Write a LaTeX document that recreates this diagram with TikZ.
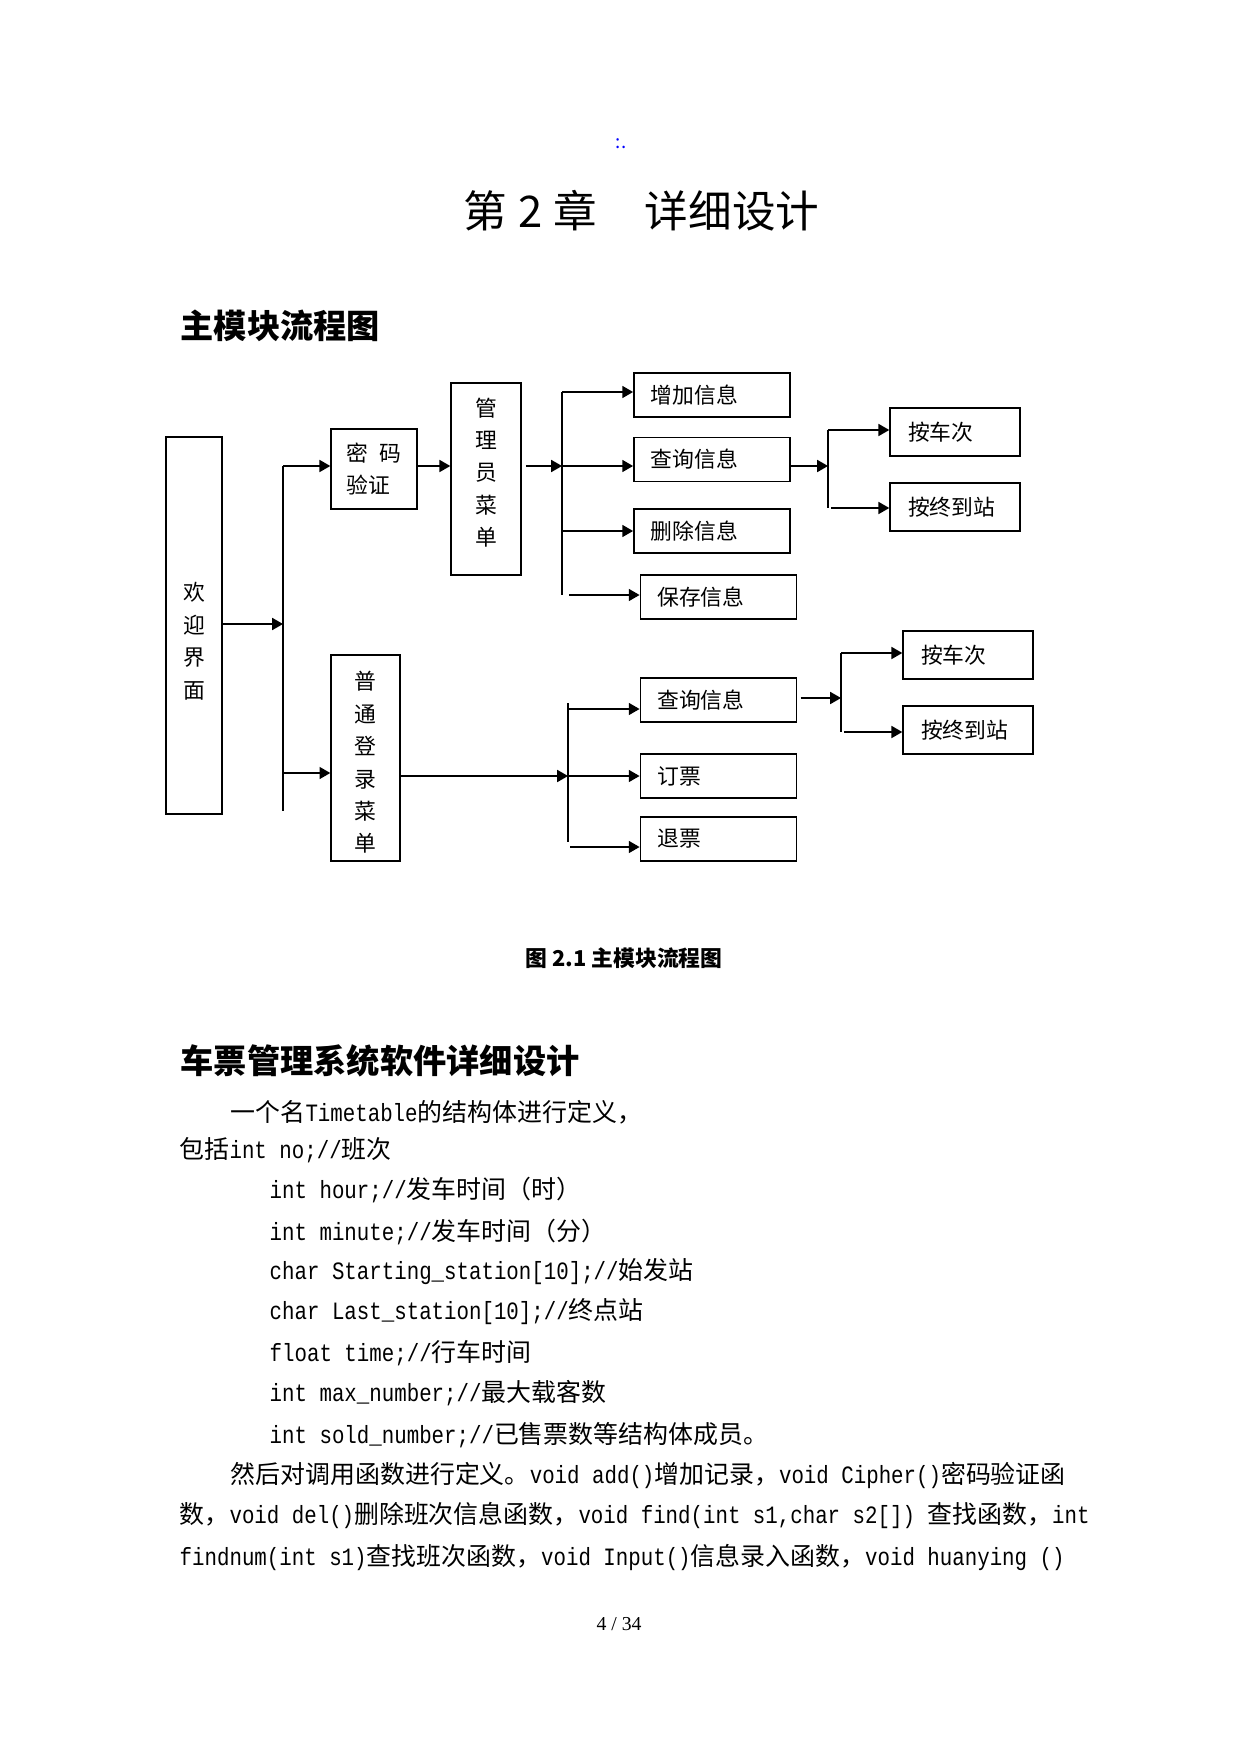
\documentclass[tikz,border=0pt]{standalone}
\usepackage{fontspec}
\setmainfont{Noto Sans CJK SC}
\setmonofont{Liberation Mono}[FakeStretch=0.8333]
\newfontfamily\pagefont{Liberation Serif}
\usepackage{tikz}
\usetikzlibrary{positioning}
\usetikzlibrary{arrows.meta}

\begin{document}
\begin{tikzpicture}[x=0.16922mm,y=-0.16922mm,>={Triangle[length=5.2pt,width=5.8pt]},line width=0.7pt,
	box/.style={draw,inner sep=0pt,font=\fontsize{10.5pt}{15.6pt}\selectfont,align=center},
	menu node/.style={draw,minimum height=21.2pt,inner xsep=8.2pt,text width=58.9pt,align=left,font=\fontsize{10.5pt}{12pt}\selectfont},
	sub node/.style={draw,minimum height=23.1pt,inner xsep=8.7pt,text width=45.2pt,align=left,font=\fontsize{10.5pt}{12pt}\selectfont},
	heading/.style={anchor=west,inner sep=0pt,font=\bfseries\fontsize{16pt}{19pt}\selectfont},
	body/.style={anchor=west,inner sep=0pt,font=\fontsize{12pt}{14pt}\selectfont}]

	\useasboundingbox (0,0) rectangle (1241,1755);

	\node[inner sep=0pt,text=blue,font=\fontsize{9pt}{10pt}\selectfont] (mark) at (621,144) {:.};
	\node[anchor=west,inner sep=0pt,font=\fontsize{21pt}{25pt}\selectfont] (chapter) at (463,211) {第\hspace{0.25em}2\hspace{0.25em}章\hspace{1.1em}详细设计};
	\node[heading] (head1) at (180,326) {主模块流程图};

	\node[box,minimum width=27pt,minimum height=181.5pt] (welcome) at (194,625.5) {\mbox{}\\[8.4pt]欢\\迎\\界\\面};
	\node[box,minimum width=41.4pt,minimum height=38.5pt,align=left] (cipher) at (374,469) {密\hspace{0.5em}码\\验证};
	\node[box,minimum width=33.7pt,minimum height=92.4pt] (admin) at (486,479) {管\\理\\员\\菜\\单\\[-8.6pt]\mbox{}};
	\node[box,minimum width=33.2pt,minimum height=99.2pt] (normal) at (365.5,758) {\mbox{}\\[-2.4pt]普\\通\\登\\录\\菜\\单};

	\node[menu node] (add) at (712,395) {增加信息};
	\node[menu node] (query) at (712,459.5) {查询信息};
	\node[menu node] (del) at (712,531) {删除信息};
	\node[menu node] (save) at (718.5,597) {保存信息};
	\node[menu node] (query2) at (718.5,700) {查询信息};
	\node[menu node] (book) at (718.5,776) {订票};
	\node[menu node] (refund) at (718.5,839) {退票};
	\node[sub node] (train) at (955,432) {按车次};
	\node[sub node] (station) at (955,507) {按终到站};
	\node[sub node] (train2) at (968,655) {按车次};
	\node[sub node] (station2) at (968,730) {按终到站};

	\coordinate (b1t) at (283,466);
	\coordinate (b1w) at (283,624);
	\coordinate (b1n) at (283,773);
	\coordinate (b1b) at (283,811);
	\coordinate (b2t) at (562,392);
	\coordinate (b2m) at (562,466);
	\coordinate (b2b) at (562,595);
	\coordinate (b3t) at (568,703);
	\coordinate (b3q) at (568,709);
	\coordinate (b3m) at (568,776);
	\coordinate (b3b) at (568,842);
	\coordinate (b3r) at (570,847);
	\coordinate (b4t) at (828,430);
	\coordinate (b4m) at (828,466);
	\coordinate (b4b) at (828,508);
	\coordinate (b5t) at (841,653);
	\coordinate (b5m) at (841,698);
	\coordinate (b5b) at (841,732);

	\draw (b1t) -- (b1b);
	\draw[->] (welcome.east |- b1w) -- (b1w);
	\draw[->] (b1t) -- (b1t -| cipher.west);
	\draw[->] (b1n) -- (b1n -| normal.west);
	\draw[->] (cipher.east |- b1t) -- (b1t -| admin.west);
	\draw[->] ([xshift=2pt]admin.east |- b2m) -- (b2m);
	\draw (b2t) -- (b2b);
	\draw[->] (b2t) -- (b2t -| add.west);
	\draw[->] (b2m) -- (b2m -| query.west);
	\draw[->] (b2m |- del.west) -- (del.west);
	\draw[->] ([xshift=3.4pt]b2b) -- (b2b -| save.west);
	\draw[->] (query.east |- b4m) -- (b4m);
	\draw (b4t) -- (b4b);
	\draw[->] (b4t) -- (b4t -| train.west);
	\draw[->] ([xshift=1.5pt]b4b) -- (b4b -| station.west);
	\draw[->] (normal.east |- b3m) -- (b3m);
	\draw (b3t) -- (b3b);
	\draw[->] (b3q) -- (b3q -| query2.west);
	\draw[->] (b3m) -- (b3m -| book.west);
	\draw[->] (b3r) -- (b3r -| refund.west);
	\draw[->] ([xshift=1.5pt]query2.east |- b5m) -- (b5m);
	\draw (b5t) -- (b5b);
	\draw[->] (b5t) -- (b5t -| train2.west);
	\draw[->] ([xshift=1.5pt]b5b) -- (b5b -| station2.west);

	\node[inner sep=0pt,font=\bfseries\fontsize{10.5pt}{12pt}\selectfont] (caption) at (624,958) {图 2.1 主模块流程图};
	\node[heading] (head2) at (180,1061) {车票管理系统软件详细设计};

	\node[body] (l1) at (230,1112) {一个名\texttt{Timetable}的结构体进行定义，};
	\node[body] (l2) at (179,1150) {包括\texttt{int no;//}班次};
	\node[body] (l3) at (269,1190) {\texttt{int hour;//}发车时间（时）};
	\node[body] (l4) at (269,1232) {\texttt{int minute;//}发车时间（分）};
	\node[body] (l5) at (269,1272) {\texttt{char Starting\_station[10];//}始发站};
	\node[body] (l6) at (269,1312) {\texttt{char Last\_station[10];//}终点站};
	\node[body] (l7) at (269,1353) {\texttt{float time;//}行车时间};
	\node[body] (l8) at (269,1393) {\texttt{int max\_number;//}最大载客数};
	\node[body] (l9) at (269,1435) {\texttt{int sold\_number;//}已售票数等结构体成员。};
	\node[body] (l10) at (230,1475) {然后对调用函数进行定义。\texttt{void add()}增加记录，\texttt{void Cipher()}密码验证函};
	\node[body] (l11) at (179,1515) {数，\texttt{void del()}删除班次信息函数，\texttt{void find(int s1,char s2[]) }查找函数，\texttt{int}};
	\node[body] (l12) at (179,1557) {\texttt{findnum(int s1)}查找班次函数，\texttt{void Input()}信息录入函数，\texttt{void huanying ()}};

	\node[inner sep=0pt,font=\pagefont\fontsize{9.5pt}{11pt}\selectfont] (page) at (619,1624) {4 / 34};
\end{tikzpicture}
\end{document}
